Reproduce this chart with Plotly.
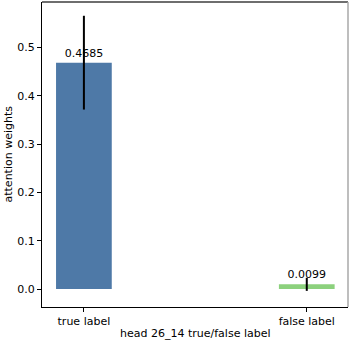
import plotly.graph_objects as go

labels = ["true label", "false label"]
weights = [0.4685, 0.0099]
errors = [0.097, 0.0135]
colors = ["#4e79a7", "#8cd17d"]
ytick_vals = [0.0, 0.1, 0.2, 0.3, 0.4, 0.5]

fig = go.Figure()
fig.add_trace(go.Bar(
    x=[0, 1],
    y=weights,
    width=0.25,
    marker=dict(color=colors, line=dict(width=0)),
    error_y=dict(type="data", array=errors, color="black", thickness=2, width=0),
    text=["%.4f" % w for w in weights],
    textposition="outside",
    textfont=dict(color="black", size=11),
    cliponaxis=False,
))

fig.update_layout(
    width=349, height=342,
    margin=dict(l=42, r=1, t=2, b=35),
    plot_bgcolor="white",
    paper_bgcolor="white",
    font=dict(family="DejaVu Sans", size=11, color="black"),
    showlegend=False,
    xaxis=dict(
        range=[-0.188, 1.185],
        tickvals=[0, 1], ticktext=labels,
        ticks="outside", ticklen=4, tickcolor="black",
        showline=True, linecolor="black", linewidth=1,
        showgrid=False, zeroline=False, automargin=False,
    ),
    yaxis=dict(
        range=[-0.037, 0.594],
        tickvals=ytick_vals, tickformat=".1f",
        ticks="outside", ticklen=4, tickcolor="black",
        showline=True, linecolor="black", linewidth=1,
        showgrid=False, zeroline=False, automargin=False,
    ),
    shapes=[
        # top and right spines are drawn lighter in the original
        dict(type="line", xref="paper", yref="paper", x0=0, x1=1, y0=1, y1=1,
             line=dict(color="#6e6e6e", width=2)),
        dict(type="line", xref="paper", yref="paper", x0=1, x1=1, y0=0, y1=1,
             line=dict(color="#a8a8a8", width=1.5)),
    ],
    annotations=[
        dict(text="head 26_14 true/false label", xref="paper", yref="paper", x=0.5, y=0,
             yshift=-26, showarrow=False, xanchor="center", yanchor="middle"),
        dict(text="attention weights", xref="paper", yref="paper", x=0, y=0.5,
             xshift=-34, showarrow=False, textangle=-90, xanchor="center", yanchor="middle"),
    ],
)

# page body has a default margin; drop it so the figure sits at the corner
fig.write_html("out.html", config={"displayModeBar": False},
               post_script="document.body.style.margin='0';")
